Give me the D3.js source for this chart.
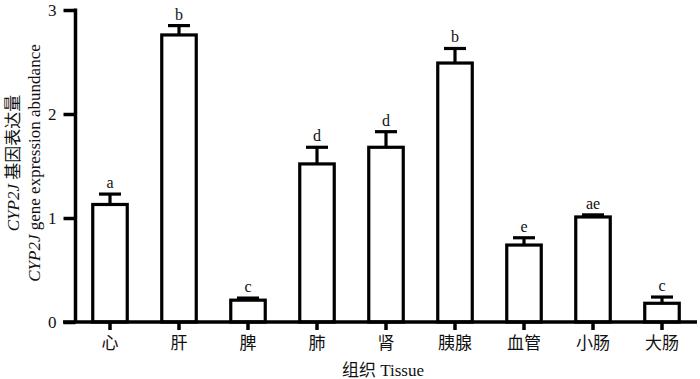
<!DOCTYPE html>
<html><head><meta charset="utf-8">
<script src="https://cdn.jsdelivr.net/npm/d3@7"></script>
<style>body{margin:0;background:#fff}svg{display:block}</style>
</head><body>
<script>
const categories = ["心","肝","脾","肺","肾","胰腺","血管","小肠","大肠"];
const values = [1.13, 2.76, 0.21, 1.52, 1.68, 2.49, 0.74, 1.01, 0.18];
const errors = [0.10, 0.09, 0.02, 0.16, 0.15, 0.14, 0.07, 0.02, 0.06];
const letters = ["a","b","c","d","d","b","e","ae","c"];
const yTicks = [0,1,2,3];

const W = 700, H = 379;
const svg = d3.select("body").append("svg").attr("width", W).attr("height", H);
const serif = "'Liberation Serif','Times New Roman',serif";
const cjk = "'Liberation Serif','Noto Sans CJK SC',serif";

const x = d3.scaleBand().domain(categories).range([75.5, 696.5]).paddingInner(0.5).paddingOuter(0.25);
const y = d3.scaleLinear().domain([0,3]).range([322, 10]);

// bars
const g = svg.append("g");
g.selectAll("rect.bar").data(categories).join("rect")
  .attr("x", d => x(d)).attr("width", x.bandwidth())
  .attr("y", (d,i) => y(values[i])).attr("height", (d,i) => y(0) - y(values[i]))
  .attr("fill", "#fff").attr("stroke", "#000").attr("stroke-width", 3.2);

// error bars
g.selectAll("line.err").data(categories).join("line")
  .attr("x1", d => x(d) + x.bandwidth()/2).attr("x2", d => x(d) + x.bandwidth()/2)
  .attr("y1", (d,i) => y(values[i])).attr("y2", (d,i) => y(values[i] + errors[i]))
  .attr("stroke", "#000").attr("stroke-width", 3.2);
g.selectAll("line.cap").data(categories).join("line")
  .attr("x1", d => x(d) + x.bandwidth()/2 - 11).attr("x2", d => x(d) + x.bandwidth()/2 + 11)
  .attr("y1", (d,i) => y(values[i] + errors[i])).attr("y2", (d,i) => y(values[i] + errors[i]))
  .attr("stroke", "#000").attr("stroke-width", 3.2);

// letters
g.selectAll("text.sig").data(categories).join("text")
  .attr("x", d => x(d) + x.bandwidth()/2)
  .attr("y", (d,i) => y(values[i] + errors[i]) - 6)
  .attr("text-anchor", "middle").attr("font-family", serif).attr("font-size", 16)
  .attr("fill", "#111").text((d,i) => letters[i]);

// y axis
const ya = svg.append("g").attr("transform", "translate(75.5,0)")
  .call(d3.axisLeft(y).tickValues(yTicks).tickFormat(d3.format("d")).tickSize(12).tickPadding(7));
ya.select(".domain").attr("d", `M0,${y(3)-1.5}V${y(0)}`).attr("stroke-width", 3.5);
ya.selectAll(".tick line").attr("stroke-width", 3.5);
ya.selectAll(".tick text").attr("font-family", serif).attr("font-size", 17).attr("fill", "#111");

// x axis
const xa = svg.append("g").attr("transform", "translate(0,322)")
  .call(d3.axisBottom(x).tickSize(8).tickPadding(7));
xa.select(".domain").attr("d", `M63,0H697`).attr("stroke-width", 3.5);
xa.selectAll(".tick line").attr("stroke-width", 3.5);
xa.selectAll(".tick text").attr("font-family", cjk).attr("font-size", 17).attr("fill", "#111");

// axis titles
svg.append("text").attr("x", 383).attr("y", 376).attr("text-anchor", "middle")
  .attr("font-family", cjk).attr("font-size", 17).attr("fill", "#111").text("组织 Tissue");

const t1 = svg.append("text").attr("transform", "translate(19,163) rotate(-90)")
  .attr("text-anchor", "middle").attr("font-family", cjk).attr("font-size", 17).attr("fill", "#111");
t1.append("tspan").attr("font-style", "italic").text("CYP2J");
t1.append("tspan").text(" 基因表达量");
const t2 = svg.append("text").attr("transform", "translate(40,163) rotate(-90)")
  .attr("text-anchor", "middle").attr("font-family", serif).attr("font-size", 17).attr("fill", "#111");
t2.append("tspan").attr("font-style", "italic").text("CYP2J");
t2.append("tspan").text(" gene expression abundance");
</script>
</body></html>
